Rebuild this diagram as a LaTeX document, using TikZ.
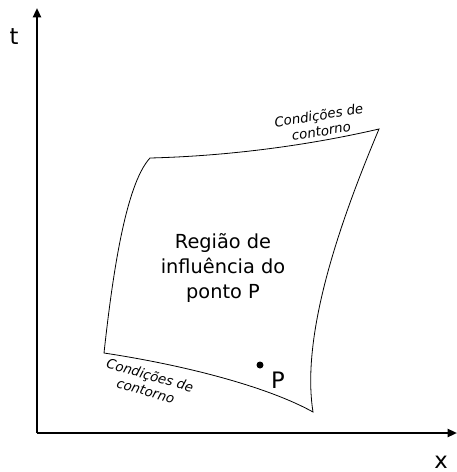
\documentclass[tikz,border=0pt]{standalone}
\usepackage{fontspec}
\setmainfont{DejaVu Sans}
\usetikzlibrary{calc,positioning,arrows.meta}

\begin{document}
\begin{tikzpicture}[x=0.75pt, y=-0.75pt, every node/.style={inner sep=0pt},
    axis/.style={line width=1.6pt, -{Triangle[length=7pt,width=6pt]}},
    bordo/.style={line width=0.6pt},
    cond/.style={font=\fontsize{10}{12}\selectfont\itshape, align=center}]

    \useasboundingbox (0,0) rectangle (457,472);

    % Axes
    \coordinate (o) at (37,433);
    \coordinate (tend) at (37,8);
    \coordinate (xend) at (457,433);
    \draw[axis] (o) -- (tend);
    \draw[axis] (o) -- (xend);
    \node (t) at (14,37) {\fontsize{17}{17}\selectfont t};
    \node (x) at (441,462) {\fontsize{17}{17}\selectfont x};

    % Region corners
    \coordinate (tl) at (150,158);
    \coordinate (tr) at (379,129);
    \coordinate (br) at (313,412);
    \coordinate (bl) at (104,353);

    \draw[bordo] (tl) .. controls (230,156) and (310,145) .. (tr)
        .. controls (345,210) and (300,330) .. (br)
        .. controls (270,388) and (190,366) .. (bl)
        .. controls (112,280) and (125,185) .. (tl);

    % Labels of the boundary
    \node[cond, rotate=9] (ctop) at (320,123) {Condições de\\contorno};
    \node[cond, rotate=-16] (cbot) at (148,383) {Condições de\\contorno};

    % Region of influence
    \node[align=center, font=\fontsize{14.5}{18.75}\selectfont] (regiao) at (223,268)
        {Região de\\influência do\\ponto P};

    % Point P
    \fill (260,365) circle (3.5) node (p) {};
    \node (plabel) at (278,380) {\fontsize{17}{17}\selectfont P};

\end{tikzpicture}
\end{document}
